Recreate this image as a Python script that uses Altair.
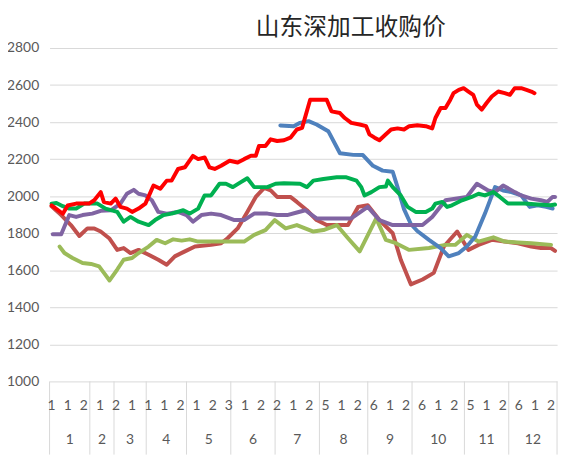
import altair as alt
import pandas as pd

# ---- data (x = position on the category axis, 126 categories) ----
red_x = [0.0, 2.8, 4.0, 6.1, 9.3, 10.6, 12.2, 13.0, 14.7, 15.9, 17.1, 18.7, 20.0, 21.6, 23.3, 25.3, 27.0,
         28.6, 29.8, 31.4, 33.1, 35.1, 36.4, 38.0, 39.2, 40.5, 42.1, 44.2, 46.2, 47.8, 49.5, 50.7, 51.5,
         53.1, 54.4, 56.0, 57.7, 59.3, 60.9, 62.2, 64.2, 66.3, 68.3, 69.5, 71.6, 72.8, 74.4, 76.5, 78.1,
         78.9, 80.2, 81.4, 83.0, 84.3, 85.9, 87.5, 88.8, 90.8, 92.9, 94.5, 95.3, 96.6, 97.8, 99.0, 99.8,
         101.1, 102.3, 103.5, 104.7, 105.6, 106.8, 108.0, 109.3, 110.9, 112.5, 113.8, 115.0, 116.6, 117.9,
         119.1, 119.9]
red_v = [1950, 1905, 1950, 1960, 1960, 1978, 2022, 1968, 1960, 1987, 1942, 1933, 1915, 1933, 1960, 2058, 2040,
         2084, 2084, 2147, 2156, 2218, 2200, 2209, 2156, 2147, 2164, 2191, 2182, 2200, 2218, 2218, 2271,
         2271, 2307, 2298, 2302, 2316, 2360, 2369, 2521, 2521, 2521, 2458, 2449, 2422, 2396, 2387, 2378,
         2334, 2316, 2302, 2334, 2360, 2366, 2360, 2378, 2383, 2378, 2366, 2422, 2476, 2476, 2521, 2556,
         2574, 2583, 2565, 2547, 2494, 2467, 2503, 2538, 2565, 2556, 2547, 2583, 2583, 2574,
         2565, 2556]

blue_x = [56.8, 60.1, 61.7, 63.8, 65.8, 68.7, 71.6, 74.9, 77.3, 79.8, 82.2, 84.7, 85.9, 87.5, 89.2, 90.8,
          93.7, 96.6, 98.6, 101.1, 103.1, 105.2, 107.6, 110.1, 112.1, 114.2, 116.6, 118.7, 120.7, 122.8, 124.4]
blue_v = [2382, 2378, 2396, 2405, 2387, 2351, 2232, 2223, 2222, 2164, 2138, 2132, 2049, 1930, 1850, 1812,
          1764, 1720, 1675, 1693, 1728, 1782, 1906, 2049, 2031, 2022, 2004, 1942, 1951, 1942, 1933]

green_x = [0.0, 1.2, 2.8, 4.4, 6.1, 8.1, 11.4, 13.4, 16.3, 17.9, 19.6, 21.6, 24.1, 25.7, 27.8, 29.8, 32.7,
           34.3, 36.4, 38.0, 39.6, 41.7, 43.3, 45.0, 47.0, 48.6, 50.3, 53.6, 55.6, 57.7, 61.7, 63.4, 65.0,
           67.5, 70.8, 73.2, 75.7, 76.9, 77.7, 79.4, 81.4, 83.0, 83.5, 84.7, 86.7, 88.4, 90.4, 92.9, 94.5,
           95.3, 97.0, 98.2, 99.4, 101.9, 104.3, 106.0, 107.6, 109.7, 111.3, 113.3, 117.4, 120.7, 124.0, 125.0]
green_v = [1960, 1963, 1946, 1933, 1933, 1960, 1960, 1933, 1915, 1862, 1888, 1862, 1844, 1871, 1898, 1906, 1924,
           1906, 1933, 2004, 2004, 2067, 2067, 2049, 2076, 2097, 2049, 2049, 2067, 2070, 2067, 2049, 2084,
           2093, 2102, 2102, 2084, 2049, 2004, 2022, 2049, 2052, 2084, 2049, 2004, 1942, 1915, 1915, 1933,
           1960, 1969, 1942, 1951, 1978, 1996, 2013, 2004, 2022, 1996, 1960, 1960, 1955, 1951, 1955]

purple_x = [0.3, 2.4, 4.4, 6.1, 7.7, 10.1, 12.2, 14.7, 17.1, 18.7, 20.4, 21.6, 23.3, 24.9, 26.5, 28.6, 31.4,
            33.5, 35.1, 37.2, 39.6, 42.1, 45.4, 47.8, 50.3, 53.6, 56.0, 58.5, 60.9, 63.0, 65.8, 68.3, 74.4,
            78.5, 81.4, 84.7, 88.0, 92.1, 94.5, 97.8, 103.1, 105.6, 108.4, 110.1, 112.1, 115.0, 116.6, 119.1,
            121.5, 123.1, 124.4, 125.0]
purple_v = [1794, 1794, 1898, 1888, 1898, 1906, 1921, 1924, 1960, 2013, 2034, 2013, 2004, 1978, 1915, 1906, 1915,
            1898, 1862, 1898, 1906, 1898, 1871, 1871, 1906, 1906, 1898, 1898, 1912, 1924, 1880, 1880, 1880,
            1942, 1871, 1844, 1844, 1844, 1888, 1978, 1996, 2067, 2031, 2022, 2058, 2022, 2004, 1987,
            1978, 1969, 1996, 1996]

darkred_x = [0.0, 2.4, 4.8, 6.9, 8.9, 10.6, 12.2, 14.3, 16.3, 17.9, 19.6, 21.6, 24.1, 26.5, 28.6, 30.6, 33.1,
             35.6, 39.6, 42.1, 43.7, 46.2, 48.6, 50.7, 52.8, 54.4, 56.0, 59.3, 60.9, 63.4, 65.8, 68.3, 73.6,
             76.1, 78.5, 81.4, 84.7, 86.7, 89.2, 92.1, 94.9, 97.4, 100.7, 103.5, 106.0, 109.3, 112.5, 115.8,
             119.1, 121.5, 124.0, 125.0]
darkred_v = [1945, 1898, 1844, 1785, 1826, 1826, 1809, 1773, 1710, 1720, 1693, 1710, 1684, 1657, 1630, 1675, 1702,
             1728, 1737, 1746, 1773, 1826, 1915, 1996, 2045, 2031, 1996, 1996, 1969, 1924, 1871, 1844, 1844,
             1942, 1951, 1871, 1800, 1657, 1524, 1550, 1586, 1728, 1809, 1710, 1737, 1764, 1755, 1746,
             1728, 1720, 1720, 1705]

lgreen_x = [2.0, 3.2, 5.2, 7.7, 9.8, 11.8, 13.0, 14.4, 16.3, 17.9, 20.0, 21.6, 24.1, 26.1, 28.2, 30.2, 32.3,
            34.3, 36.4, 47.8, 50.3, 53.1, 55.4, 58.1, 60.9, 65.0, 67.5, 70.8, 73.6, 76.5, 80.6, 83.0, 85.5,
            88.8, 93.7, 97.8, 100.2, 103.1, 106.0, 109.7, 112.5, 115.8, 119.1, 124.0]
lgreen_v = [1728, 1693, 1666, 1639, 1634, 1621, 1586, 1545, 1604, 1657, 1666, 1693, 1728, 1764, 1746, 1767, 1760,
            1767, 1755, 1755, 1791, 1817, 1871, 1826, 1844, 1809, 1817, 1844, 1773, 1702, 1880, 1764, 1746,
            1710, 1720, 1737, 1737, 1791, 1755, 1778, 1755, 1750, 1746, 1737]

series_names = ["深红", "浅绿", "蓝", "紫", "绿", "红"]
series_colors = ["#C0504D", "#9BBB59", "#4F81BD", "#8064A2", "#00B050", "#FF0000"]
series_data = [(darkred_x, darkred_v), (lgreen_x, lgreen_v), (blue_x, blue_v),
               (purple_x, purple_v), (green_x, green_v), (red_x, red_v)]

# axis labels
day_pos = list(range(0, 126, 4))
day_text = ["1", "1", "2", "1", "2", "1", "1", "1", "2", "1", "2", "3", "1", "2", "2",
            "1", "2", "5", "1", "2", "6", "1", "2", "6", "1", "2", "5", "1", "2", "6", "1", "2"]
month_edges = [0, 10, 16, 24, 34, 45, 56, 67, 79, 90, 103, 114, 126]
month_text = [str(m) for m in range(1, 13)]
y_ticks = [1000, 1200, 1400, 1600, 1800, 2000, 2200, 2400, 2600, 2800]

rows = []
for name, (xs, vs) in zip(series_names, series_data):
    for i, (x, v) in enumerate(zip(xs, vs)):
        rows.append({"s": name, "x": x, "v": v, "o": i})
df = pd.DataFrame(rows)

day_df = pd.DataFrame({"x": day_pos, "t": day_text})
month_df = pd.DataFrame({
    "x": [(a + b) / 2 - 0.5 for a, b in zip(month_edges[:-1], month_edges[1:])],
    "t": month_text})
edge_df = pd.DataFrame({"x": [e - 0.5 for e in month_edges]})

W, H = 513, 337
FONT = "Lato"
GRAY = "#595959"
xscale = alt.Scale(domain=[-0.5, 125.5], nice=False, zero=False)

lines = alt.Chart(df).mark_line(strokeWidth=4, strokeJoin="round", strokeCap="round").encode(
    x=alt.X("x:Q", scale=xscale, axis=None),
    y=alt.Y("v:Q", scale=alt.Scale(domain=[1000, 2800], nice=False, zero=False),
            axis=alt.Axis(values=y_ticks, format="d", title=None, ticks=False, domain=False,
                          gridColor="#d9d9d9", gridWidth=1, labelColor=GRAY,
                          labelFontSize=14, labelFont=FONT, labelPadding=11)),
    color=alt.Color("s:N", scale=alt.Scale(domain=series_names, range=series_colors), legend=None),
    order="o:Q",
)

days = alt.Chart(day_df).mark_text(fontSize=14, font=FONT, color=GRAY, baseline="middle").encode(
    x=alt.X("x:Q", scale=xscale, axis=None),
    y=alt.value(H + 25),
    text="t:N",
)

months = alt.Chart(month_df).mark_text(fontSize=14, font=FONT, color=GRAY, baseline="middle").encode(
    x=alt.X("x:Q", scale=xscale, axis=None),
    y=alt.value(H + 59),
    text="t:N",
)

edges = alt.Chart(edge_df).mark_rule(color="#d9d9d9", strokeWidth=1).encode(
    x=alt.X("x:Q", scale=xscale, axis=None),
    y=alt.value(H),
    y2=alt.value(H + 74),
)

chart = alt.layer(edges, lines, days, months).properties(
    width=W, height=H,
    title=alt.TitleParams("山东深加工收购价", font="Noto Sans CJK SC", fontSize=24,
                          fontWeight="normal", color="#262626", anchor="middle", dx=48, offset=1),
    autosize=alt.AutoSizeParams(type="none"),
    padding={"left": 42, "top": 38, "right": 5, "bottom": 76},
).configure_view(stroke=None)

chart.save("out.html", embed_options={"renderer": "svg", "actions": False})
